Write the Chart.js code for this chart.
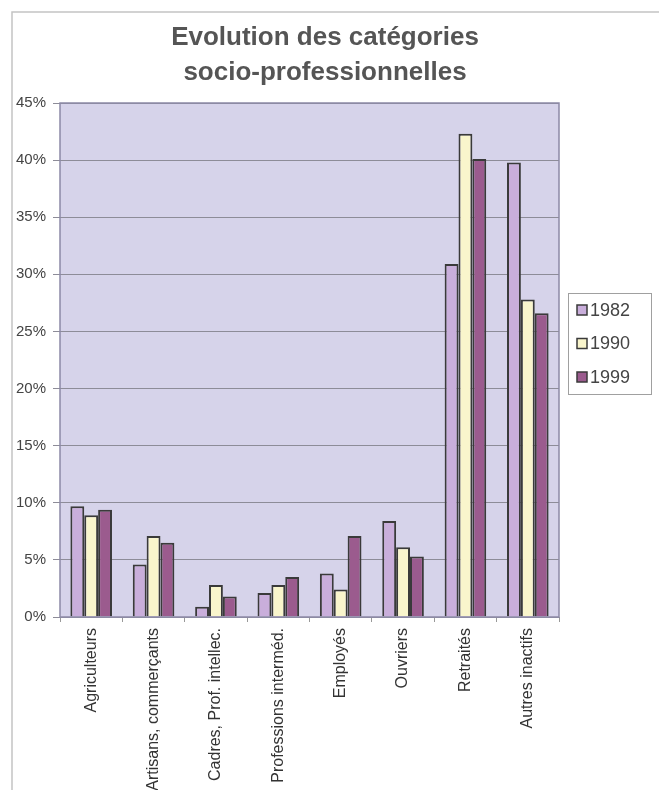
<!DOCTYPE html>
<html>
<head>
<meta charset="utf-8">
<script src="https://cdn.jsdelivr.net/npm/chart.js@4/dist/chart.umd.min.js"></script>
<style>
  html, body { margin: 0; padding: 0; background: #fff; }
  #wrap { width: 659px; height: 790px; position: relative; }
</style>
</head>
<body>
<div id="wrap"><canvas id="chart"></canvas></div>
<script>
const categories = ["Agriculteurs", "Artisans, commerçants", "Cadres, Prof. intellec.", "Professions interméd.", "Employés", "Ouvriers", "Retraités", "Autres inactifs"];
const years = ["1982", "1990", "1999"];
const values1982 = [9.7, 4.6, 0.9, 2.1, 3.8, 8.4, 30.9, 39.8];
const values1990 = [8.9, 7.1, 2.8, 2.8, 2.4, 6.1, 42.3, 27.8];
const values1999 = [9.4, 6.5, 1.8, 3.5, 7.1, 5.3, 40.1, 26.6];
const titleLines = ["Evolution des catégories", "socio-professionnelles"];
const colors = ["#c9aedb", "#f9f5cc", "#9b5b8e"];

const FONT = "'Liberation Sans', Arial, sans-serif";

// frame, plot background, title and legend box
const decor = {
  id: "decor",
  beforeDraw(chart) {
    const { ctx, chartArea: a } = chart;
    ctx.save();
    ctx.strokeStyle = "#c4c4c4";
    ctx.lineWidth = 1.5;
    ctx.beginPath();
    ctx.moveTo(12, 790);
    ctx.lineTo(12, 12);
    ctx.lineTo(659, 12);
    ctx.stroke();
    ctx.fillStyle = "#d6d3ea";
    ctx.fillRect(a.left, a.top, a.right - a.left, a.bottom - a.top);

    ctx.fillStyle = "#555";
    ctx.font = "bold 26px " + FONT;
    ctx.textAlign = "center";
    ctx.textBaseline = "middle";
    titleLines.forEach((t, i) => ctx.fillText(t, 325, 38 + i * 35));
    ctx.restore();
  },
  afterDraw(chart) {
    const { ctx, chartArea: a } = chart;
    ctx.save();
    ctx.strokeStyle = "#8c89a6";
    ctx.lineWidth = 1.5;
    ctx.strokeRect(a.left, a.top, a.right - a.left, a.bottom - a.top);

    // legend
    ctx.fillStyle = "#fff";
    ctx.fillRect(568, 293, 83, 101);
    ctx.strokeStyle = "#a0a0a0";
    ctx.lineWidth = 1;
    ctx.strokeRect(568.5, 293.5, 83, 101);
    ctx.font = "18px " + FONT;
    ctx.textBaseline = "middle";
    chart.data.datasets.forEach((ds, i) => {
      const y = 310 + i * 33.5;
      ctx.fillStyle = ds.backgroundColor;
      ctx.fillRect(577, y - 5, 10, 10);
      ctx.strokeStyle = "#3a3a3a";
      ctx.lineWidth = 1.5;
      ctx.strokeRect(577, y - 5, 10, 10);
      ctx.fillStyle = "#444";
      ctx.fillText(ds.label, 590, y + 1);
    });
    ctx.restore();
  }
};

new Chart(document.getElementById("chart"), {
  type: "bar",
  data: {
    labels: categories,
    datasets: [
      { label: years[0], data: values1982, backgroundColor: colors[0] },
      { label: years[1], data: values1990, backgroundColor: colors[1] },
      { label: years[2], data: values1999, backgroundColor: colors[2] }
    ].map(d => Object.assign(d, {
      borderColor: "#3a3a3a",
      borderWidth: 2,
      borderSkipped: "bottom",
      categoryPercentage: 0.667,
      barPercentage: 1.0
    }))
  },
  options: {
    responsive: true,
    maintainAspectRatio: false,
    animation: false,
    layout: { padding: { left: 0, right: 100, top: 103, bottom: 0 } },
    plugins: {
      legend: { display: false },
      tooltip: { enabled: false },
      title: { display: false }
    },
    scales: {
      x: {
        afterFit(scale) { scale.height = 173; },
        grid: { drawOnChartArea: false, drawTicks: true, tickLength: 5, color: "#999" },
        border: { display: false },
        ticks: {
          minRotation: 90,
          maxRotation: 90,
          autoSkip: false,
          padding: 6,
          color: "#333",
          font: { family: FONT, size: 16 }
        }
      },
      y: {
        min: 0,
        max: 45,
        afterFit(scale) { scale.width = 60; },
        grid: { color: "#8d8c98", lineWidth: 1, tickLength: 7 },
        border: { display: false },
        ticks: {
          stepSize: 5,
          padding: 7,
          color: "#444",
          font: { family: FONT, size: 15 },
          callback: v => v + "%"
        }
      }
    }
  },
  plugins: [decor]
});
</script>
</body>
</html>
